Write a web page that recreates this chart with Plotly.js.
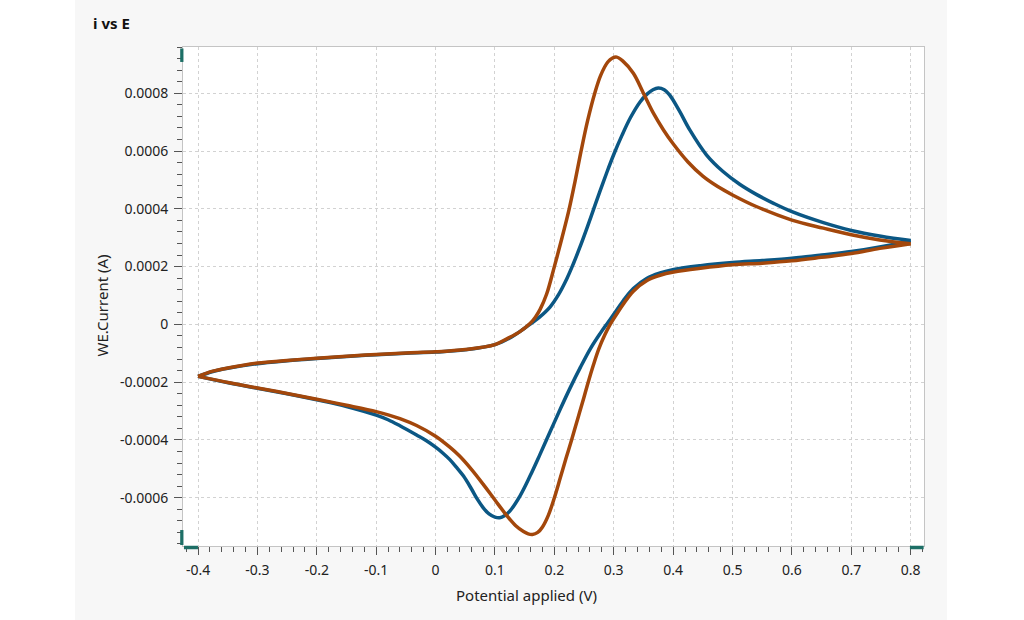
<!DOCTYPE html>
<html>
<head>
<meta charset="utf-8">
<script src="https://cdn.plot.ly/plotly-3.0.1.min.js"></script>
<style>
  html, body { margin: 0; padding: 0; background: #ffffff; width: 1024px; height: 620px; overflow: hidden; }
  #plot { position: absolute; left: 75px; top: 0; width: 872px; height: 620px; }
</style>
</head>
<body>
<div id="plot"></div>
<script>
// ---- Series 1 (blue): forward (anodic) sweep -0.4 -> 0.8 V
const blueFwdE = [-0.4, -0.375, -0.35, -0.3, -0.25, -0.2, -0.15, -0.1, -0.05, 0, 0.05, 0.1, 0.125, 0.148, 0.16, 0.176, 0.193, 0.207, 0.221, 0.232, 0.243, 0.255, 0.266, 0.277, 0.288, 0.3, 0.314, 0.328, 0.344, 0.356, 0.366, 0.375, 0.385, 0.394, 0.411, 0.428, 0.456, 0.484, 0.512, 0.54, 0.57, 0.6, 0.653, 0.7, 0.75, 0.8];
const blueFwdI = [-0.00018, -0.000163, -0.000152, -0.000136, -0.000126, -0.000118, -0.000111, -0.000105, -0.0001, -0.000096, -0.000088, -0.00007, -0.000047, -0.000016, 0.000002, 0.000027, 0.000061, 0.000103, 0.000158, 0.00021, 0.000267, 0.000334, 0.000398, 0.000462, 0.000524, 0.000588, 0.000655, 0.000715, 0.000769, 0.000797, 0.000812, 0.000818, 0.000812, 0.000794, 0.000737, 0.000673, 0.000587, 0.000529, 0.000485, 0.00045, 0.000418, 0.00039, 0.000352, 0.000325, 0.000305, 0.00029];
// ---- Series 1 (blue): reverse (cathodic) sweep 0.8 -> -0.4 V
const blueRevE = [0.8, 0.75, 0.7, 0.65, 0.6, 0.55, 0.5, 0.446, 0.401, 0.378, 0.356, 0.333, 0.316, 0.3, 0.29, 0.277, 0.261, 0.244, 0.227, 0.21, 0.193, 0.176, 0.159, 0.142, 0.125, 0.116, 0.108, 0.1, 0.09, 0.08, 0.07, 0.06, 0.047, 0.035, 0.024, 0.012, 0, -0.016, -0.032, -0.06, -0.08, -0.1, -0.15, -0.2, -0.25, -0.3, -0.347, -0.4];
const blueRevI = [0.00029, 0.000269, 0.000252, 0.00024, 0.000229, 0.000221, 0.000214, 0.000203, 0.00019, 0.000178, 0.00016, 0.000124, 0.000082, 0.000035, 0.000006, -0.000032, -0.000083, -0.000148, -0.000218, -0.000293, -0.000371, -0.000449, -0.000525, -0.000594, -0.000646, -0.000662, -0.000669, -0.000667, -0.000656, -0.000634, -0.000604, -0.000568, -0.000525, -0.000494, -0.000468, -0.000445, -0.000425, -0.000402, -0.000383, -0.000351, -0.00033, -0.000314, -0.000284, -0.000261, -0.00024, -0.000221, -0.000203, -0.00018];

// ---- Series 2 (orange): forward sweep
const orangeFwdE = [-0.4, -0.375, -0.35, -0.3, -0.25, -0.2, -0.15, -0.1, -0.05, 0, 0.05, 0.1, 0.12, 0.142, 0.159, 0.168, 0.176, 0.187, 0.2, 0.212, 0.225, 0.235, 0.245, 0.256, 0.268, 0.278, 0.29, 0.298, 0.305, 0.315, 0.333, 0.35, 0.367, 0.384, 0.4, 0.425, 0.45, 0.475, 0.5, 0.54, 0.6, 0.653, 0.7, 0.748, 0.8];
const orangeFwdI = [-0.00018, -0.000162, -0.000151, -0.000134, -0.000125, -0.000117, -0.00011, -0.000104, -0.000099, -0.000095, -0.000087, -0.00007, -0.00005, -0.000025, 0.000003, 0.000025, 0.000052, 0.000105, 0.0002, 0.000293, 0.0004, 0.000497, 0.0006, 0.000705, 0.0008, 0.000862, 0.000908, 0.000922, 0.000925, 0.000912, 0.000869, 0.0008, 0.00073, 0.000672, 0.000625, 0.000562, 0.000513, 0.000477, 0.000448, 0.000408, 0.000361, 0.000333, 0.00031, 0.000292, 0.000279];
// ---- Series 2 (orange): reverse sweep
const orangeRevE = [0.8, 0.748, 0.7, 0.65, 0.6, 0.55, 0.5, 0.446, 0.401, 0.378, 0.356, 0.333, 0.316, 0.305, 0.294, 0.285, 0.275, 0.266, 0.257, 0.25, 0.24, 0.229, 0.22, 0.21, 0.2, 0.19, 0.18, 0.172, 0.163, 0.156, 0.148, 0.135, 0.12, 0.1, 0.08, 0.06, 0.04, 0.024, 0, -0.032, -0.06, -0.08, -0.1, -0.15, -0.2, -0.25, -0.3, -0.347, -0.4];
const orangeRevI = [0.000279, 0.000263, 0.000245, 0.000232, 0.00022, 0.000212, 0.000206, 0.000194, 0.000181, 0.00017, 0.000152, 0.000115, 0.00007, 0.000036, 0, -0.000036, -0.000084, -0.000139, -0.0002, -0.000251, -0.000322, -0.0004, -0.000461, -0.000531, -0.0006, -0.00066, -0.000701, -0.00072, -0.000727, -0.000725, -0.000717, -0.000697, -0.000662, -0.000608, -0.000553, -0.000501, -0.000455, -0.000425, -0.000387, -0.00035, -0.000326, -0.000313, -0.000302, -0.00028, -0.000259, -0.000239, -0.00022, -0.000202, -0.00018];

// ---- Tick labels
const xTickVals = [-0.4, -0.3, -0.2, -0.1, 0, 0.1, 0.2, 0.3, 0.4, 0.5, 0.6, 0.7, 0.8];
const xTickText = ['-0.4', '-0.3', '-0.2', '-0.1', '0', '0.1', '0.2', '0.3', '0.4', '0.5', '0.6', '0.7', '0.8'];
const yTickVals = [-0.0006, -0.0004, -0.0002, 0, 0.0002, 0.0004, 0.0006, 0.0008];
const yTickText = ['-0.0006', '-0.0004', '-0.0002', '0', '0.0002', '0.0004', '0.0006', '0.0008'];

const BLUE = '#0b5784';
const ORANGE = '#a3470b';
const FONT = 'Noto Sans, Open Sans, sans-serif';

function branch(x, y, color) {
  return { x: x, y: y, type: 'scatter', mode: 'lines',
           line: { color: color, width: 3.5, shape: 'spline', smoothing: 1 },
           showlegend: false, hoverinfo: 'x+y' };
}

const traces = [
  branch(blueFwdE, blueFwdI, BLUE),
  branch(blueRevE, blueRevI, BLUE),
  branch(orangeFwdE, orangeFwdI, ORANGE),
  branch(orangeRevE, orangeRevI, ORANGE)
];

const TEAL = '#1d6f66';
const layout = {
  width: 872, height: 620,
  margin: { l: 108, r: 23, t: 47, b: 74, pad: 0 },
  paper_bgcolor: '#f7f7f7',
  plot_bgcolor: '#ffffff',
  font: { family: FONT, size: 14, color: '#222222' },
  title: { text: '<b>i vs E</b>', xref: 'container', x: 18 / 872, xanchor: 'left',
           yref: 'container', y: 1 - 24 / 620, yanchor: 'middle',
           font: { family: FONT, size: 15, color: '#111111' } },
  xaxis: {
    range: [-0.4253, 0.8224], autorange: false,
    tickmode: 'array', tickvals: xTickVals, ticktext: xTickText,
    ticks: 'outside', ticklen: 8, tickwidth: 1, tickcolor: '#555555',
    ticklabelstandoff: 3,
    showline: true, linecolor: '#c4c4c4', linewidth: 1, mirror: true,
    showgrid: true, gridcolor: '#d2d2d2', griddash: '3px,3px', gridwidth: 1,
    zeroline: false,
    minor: { tickmode: 'linear', tick0: 0, dtick: 0.02, ticks: 'outside', ticklen: 5, tickcolor: '#555555', showgrid: false },
    tickfont: { size: 14, color: '#222222' }
  },
  yaxis: {
    range: [-0.000767, 0.00096], autorange: false,
    tickmode: 'array', tickvals: yTickVals, ticktext: yTickText,
    ticks: 'outside', ticklen: 8, tickwidth: 1, tickcolor: '#555555',
    ticklabelstandoff: 3,
    showline: true, linecolor: '#c4c4c4', linewidth: 1, mirror: true,
    showgrid: true, gridcolor: '#d2d2d2', griddash: '3px,3px', gridwidth: 1,
    zeroline: false,
    minor: { tickmode: 'linear', tick0: 0, dtick: 0.00004, ticks: 'outside', ticklen: 5, tickcolor: '#555555', showgrid: false },
    tickfont: { size: 14, color: '#222222' }
  },
  annotations: [
    { text: 'WE.Current (A)', xref: 'paper', yref: 'paper', x: -0.108, y: 0.482,
      textangle: -90, showarrow: false, xanchor: 'center', yanchor: 'middle',
      font: { family: FONT, size: 15, color: '#222222' } },
    { text: 'Potential applied (V)', xref: 'paper', yref: 'paper', x: 0.464, y: -0.098,
      showarrow: false, xanchor: 'center', yanchor: 'middle',
      font: { family: FONT, size: 15, color: '#222222' } }
  ],
  shapes: [
    { type: 'rect', xref: 'paper', yref: 'paper', x0: -0.0038, x1: 0.0006, y0: 0.970, y1: 0.997, line: { width: 0 }, fillcolor: TEAL, layer: 'above' },
    { type: 'rect', xref: 'paper', yref: 'paper', x0: -0.0038, x1: 0.0006, y0: 0.002, y1: 0.032, line: { width: 0 }, fillcolor: TEAL, layer: 'above' },
    { type: 'rect', xref: 'paper', yref: 'paper', x0: 0.0013, x1: 0.0202, y0: -0.0065, y1: 0.0005, line: { width: 0 }, fillcolor: TEAL, layer: 'above' },
    { type: 'rect', xref: 'paper', yref: 'paper', x0: 0.981, x1: 0.9995, y0: -0.0065, y1: 0.0005, line: { width: 0 }, fillcolor: TEAL, layer: 'above' }
  ]
};

Plotly.newPlot('plot', traces, layout, { staticPlot: true, displayModeBar: false });
</script>
</body>
</html>
